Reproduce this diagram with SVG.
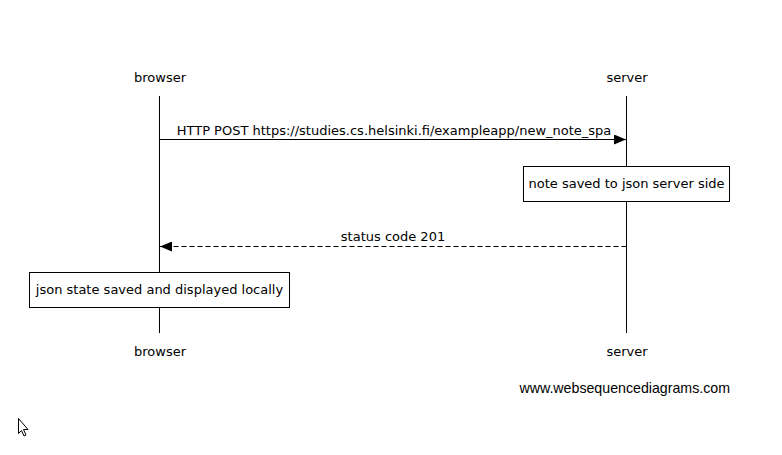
<svg xmlns="http://www.w3.org/2000/svg" width="782" height="455" viewBox="0 0 782 455">
<defs>
<style>
.t{font-family:"DejaVu Sans",sans-serif;font-size:13px;fill:#000}
.wm{font-family:"Liberation Sans",Arial,sans-serif;font-size:14.2px;fill:#000}
.life{stroke:#000;stroke-width:1}
.note{fill:#fff;stroke:#000;stroke-width:1}
.msg{stroke:#000;stroke-width:1;fill:none}
</style>
<marker id="ah" viewBox="0 0 12 10" refX="12" refY="5" markerWidth="12" markerHeight="10" markerUnits="userSpaceOnUse" orient="auto">
<path d="M0,0 L12,5 L0,10 Z" fill="#000"/>
</marker>
</defs>
<rect width="782" height="455" fill="#fff"/>
<g id="browser">
<text class="t" x="160" y="82" text-anchor="middle">browser</text>
<line class="life" x1="159.5" y1="96" x2="159.5" y2="333"/>
<text class="t" x="160" y="356" text-anchor="middle">browser</text>
</g>
<g id="server">
<text class="t" x="627" y="82" text-anchor="middle">server</text>
<line class="life" x1="626.5" y1="96" x2="626.5" y2="333"/>
<text class="t" x="627" y="356" text-anchor="middle">server</text>
</g>
<g id="connectors">
<line class="msg" x1="159.5" y1="139.5" x2="626" y2="139.5" marker-end="url(#ah)"/>
<text class="t" x="394" y="135" text-anchor="middle">HTTP POST https://studies.cs.helsinki.fi/exampleapp/new_note_spa</text>
<line class="msg" x1="626.5" y1="246.5" x2="160" y2="246.5" stroke-dasharray="5,3" marker-end="url(#ah)"/>
<text class="t" x="393" y="241" text-anchor="middle">status code 201</text>
</g>
<g id="note-server">
<rect class="note" x="523.5" y="166.5" width="206" height="35"/>
<text class="t" x="626.5" y="188" text-anchor="middle">note saved to json server side</text>
</g>
<g id="note-browser">
<rect class="note" x="29.5" y="272.5" width="260" height="35"/>
<text class="t" x="159.5" y="294" text-anchor="middle">json state saved and displayed locally</text>
</g>
<text class="wm" x="730" y="393" text-anchor="end">www.websequencediagrams.com</text>
<path d="M18.5,418.5 L18.5,433.5 L21.5,430.5 L24,436 L26,435 L23.5,429.5 L28,429.5 Z" fill="#fff" stroke="#000" stroke-width="1"/>
</svg>
